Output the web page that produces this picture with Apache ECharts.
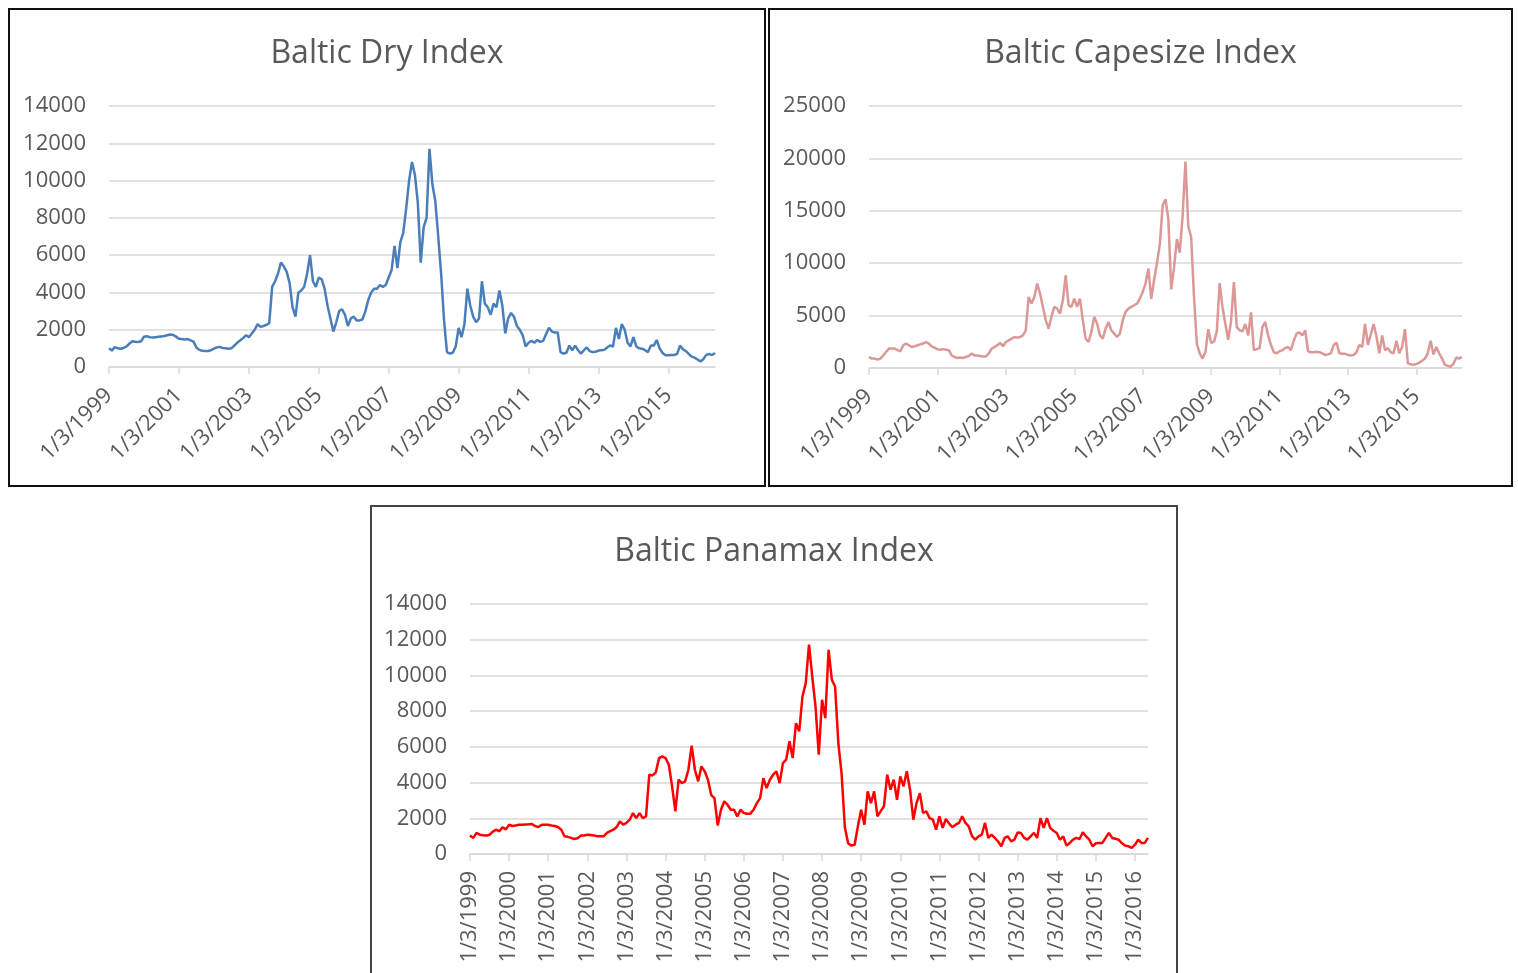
<!DOCTYPE html>
<html>
<head>
<meta charset="utf-8">
<script src="https://cdn.jsdelivr.net/npm/echarts@6/dist/echarts.min.js"></script>
<style>
  html, body { margin: 0; padding: 0; background: #ffffff; overflow: hidden; }
  body { width: 1518px; height: 973px; position: relative; }
  .box { position: absolute; box-sizing: border-box; border: 2px solid #111; background: #fff; }
</style>
</head>
<body>
<div id="bdi" class="box" style="left:8px;top:8px;width:758px;height:479px"></div>
<div id="bci" class="box" style="left:768px;top:8px;width:745px;height:479px"></div>
<div id="bpi" class="box" style="left:370px;top:505px;width:808px;height:490px;border-color:#444"></div>
<script>
// monthly samples, Jan 1999 .. May 2016 (labels use the 3rd of each month)
const startYear = 1999;
const monthCount = 209;

const bdiValues = [
  1000, 880, 1070, 1000, 980, 1020, 1100, 1250, 1380, 1350, 1340, 1380,
  1620, 1650, 1600, 1580, 1600, 1620, 1640, 1660, 1700, 1740, 1720, 1630,
  1520, 1500, 1480, 1500, 1430, 1360, 1050, 920, 870, 860, 860, 900,
  980, 1050, 1080, 1020, 1000, 980, 1000, 1150, 1300, 1420, 1550, 1700,
  1600, 1800, 2000, 2300, 2150, 2200, 2250, 2350, 4300, 4600, 5000, 5600,
  5400, 5100, 4500, 3200, 2700, 4000, 4100, 4300, 5000, 6000, 4600, 4300,
  4800, 4700, 4200, 3300, 2600, 1900, 2400, 3000, 3100, 2800, 2200, 2600,
  2700, 2500, 2500, 2550, 3000, 3600, 4000, 4200, 4200, 4400, 4300, 4400,
  4800, 5200, 6500, 5300, 6700, 7200, 8500, 10000, 11000, 10300, 8800, 5600,
  7500, 8000, 11700, 9800, 8900, 7000, 5000, 2500, 800, 720, 760, 1100,
  2100, 1600, 2300, 4200, 3300, 2700, 2400, 2600, 4600, 3400, 3200, 2800,
  3400, 3200, 4100, 3300, 1800, 2600, 2900, 2700, 2200, 2000, 1700, 1100,
  1300, 1400, 1300, 1450, 1350, 1400, 1750, 2100, 1900, 1850, 1850, 800,
  720, 760, 1150, 900, 1150, 900, 720, 900, 1050, 850, 800, 820,
  880, 900, 920, 1050, 1150, 1100, 2100, 1500, 2300, 2000, 1300, 1100,
  1600, 1100, 1000, 980, 900, 800, 1150, 1150, 1450, 1000, 750, 630,
  630, 640, 650, 700, 1150, 950, 850, 700, 560, 500, 400, 300,
  420, 650, 700, 640, 750
];

const bciValues = [
  1050, 900, 900, 800, 900, 1200, 1530, 1850, 1850, 1850, 1700, 1600,
  2170, 2330, 2170, 2000, 2070, 2170, 2260, 2330, 2480, 2330, 2070, 1940,
  1780, 1750, 1800, 1750, 1700, 1200, 1050, 950, 1000, 950, 1050, 1150,
  1370, 1200, 1200, 1150, 1100, 1100, 1370, 1850, 2000, 2170, 2400, 2070,
  2480, 2640, 2800, 2960, 2900, 2960, 3120, 3600, 6780, 6150, 6780, 8060,
  7100, 5830, 4550, 3760, 4870, 5830, 5670, 5190, 6460, 8850, 5990, 5830,
  6620, 5830, 6620, 4550, 2800, 2480, 3440, 4870, 4240, 3120, 2800, 3760,
  4390, 3600, 3280, 2960, 3280, 4550, 5350, 5670, 5830, 5990, 6150, 6620,
  7260, 8060, 9500, 6600, 8400, 10000, 11800, 15500, 16100, 14200, 7500, 9600,
  12300, 11000, 14500, 19700, 13500, 12500, 6800, 2300, 1400, 900, 1500, 3700,
  2400, 2500, 3500, 8100, 5800, 4200, 2700, 4500, 8200, 3900, 3600, 3500,
  4200, 3100, 5300, 1700, 1800, 1900, 3900, 4400, 3100, 2200, 1500, 1400,
  1600, 1700, 1900, 2000, 1700, 2600, 3300, 3400, 3100, 3600, 1600, 1500,
  1500, 1550, 1500, 1400, 1250, 1300, 1400, 2200, 2400, 1400, 1350, 1350,
  1250, 1200, 1250, 1500, 2200, 2000, 4200, 2200, 3200, 4200, 3000, 1400,
  3100, 1700, 1900, 1500, 1400, 2600, 1400, 2000, 3700, 450, 350, 300,
  400, 500, 700, 900, 1400, 2600, 1300, 2000, 1400, 900, 300, 200,
  120, 400, 1000, 900, 1050
];

const bpiValues = [
  1040, 900, 1180, 1080, 1050, 1030, 1080, 1250, 1360, 1270, 1500, 1380,
  1640, 1570, 1600, 1640, 1640, 1650, 1660, 1680, 1560, 1510, 1640, 1640,
  1640, 1600, 1570, 1510, 1360, 990, 960, 900, 840, 880, 1030, 1040,
  1080, 1060, 1040, 1000, 990, 990, 1180, 1280, 1360, 1510, 1830, 1640,
  1740, 1920, 2290, 2010, 2290, 2010, 2110, 4440, 4400, 4570, 5370, 5470,
  5370, 5000, 3790, 2390, 4160, 3970, 4070, 4720, 6060, 4720, 4070, 4910,
  4630, 4160, 3300, 3130, 1600, 2480, 2950, 2760, 2480, 2480, 2100, 2480,
  2290, 2260, 2260, 2480, 2850, 3130, 4250, 3690, 4160, 4440, 4630, 3970,
  5090, 5280, 6310, 5370, 7330, 6870, 8820, 9570, 11720, 9940, 8260, 5560,
  8640, 7610, 11440, 9760, 9380, 6210, 4500, 1500, 600, 470, 520, 1550,
  2480, 1640, 3510, 2850, 3510, 2110, 2400, 2670, 4440, 3600, 4160, 3040,
  4350, 3790, 4630, 3600, 1920, 2850, 3410, 2300, 2390, 2010, 1920, 1360,
  2110, 1460, 1960, 1700, 1510, 1640, 1740, 2110, 1740, 1550, 1000, 800,
  990, 1080, 1740, 900, 1080, 900, 700, 430, 900, 990, 710, 800,
  1210, 1180, 900, 800, 990, 1180, 900, 2010, 1460, 2010, 1460, 1300,
  1180, 800, 990, 470, 620, 800, 900, 840, 1210, 990, 800, 430,
  600, 620, 620, 900, 1180, 900, 850, 800, 600, 470, 430, 340,
  520, 800, 620, 620, 900
];

const dateLabels = [];
for (let i = 0; i < monthCount; i++) {
  const y = startYear + Math.floor(i / 12);
  const m = (i % 12) + 1;
  dateLabels.push(m + "/3/" + y);
}

const textColor = "#595959";
const gridColor = "#d9d9d9";
const fontFamily = "'Open Sans', sans-serif";

function buildChart(id, cfg) {
  const chart = echarts.init(document.getElementById(id));
  const every = cfg.labelEveryMonths;
  chart.setOption({
    animation: false,
    title: {
      text: cfg.title,
      left: "center",
      top: cfg.titleTop,
      textStyle: { fontFamily: fontFamily, fontSize: 32, fontWeight: "normal", color: textColor }
    },
    grid: cfg.grid,
    xAxis: {
      type: "category",
      boundaryGap: false,
      data: dateLabels,
      axisLine: { lineStyle: { color: gridColor, width: 1.5 } },
      axisTick: {
        show: true,
        length: 7,
        interval: (idx) => idx % every === 0,
        lineStyle: { color: gridColor, width: 1.5 }
      },
      axisLabel: {
        interval: (idx) => idx % every === 0,
        rotate: cfg.rotate,
        margin: cfg.labelMargin,
        fontFamily: fontFamily,
        fontSize: 22,
        color: textColor
      },
      splitLine: { show: false }
    },
    yAxis: {
      type: "value",
      min: 0,
      max: cfg.yMax,
      interval: cfg.yInterval,
      axisLine: { show: false },
      axisTick: { show: false },
      axisLabel: {
        margin: 23,
        fontFamily: fontFamily,
        fontSize: 22,
        color: textColor,
        formatter: (v) => String(v)
      },
      splitLine: { lineStyle: { color: gridColor, width: 1.5 } }
    },
    series: [{
      type: "line",
      data: cfg.values,
      symbol: "none",
      lineStyle: { color: cfg.color, width: cfg.lineWidth },
      itemStyle: { color: cfg.color }
    }]
  });
  return chart;
}

buildChart("bdi", {
  title: "Baltic Dry Index",
  titleTop: 23,
  grid: { left: 99, right: 49, top: 96, bottom: 118 },
  values: bdiValues,
  color: "#4a7ebb",
  lineWidth: 2.5,
  yMax: 14000,
  yInterval: 2000,
  labelEveryMonths: 24,
  rotate: 45,
  labelMargin: 25
});

buildChart("bci", {
  title: "Baltic Capesize Index",
  titleTop: 23,
  grid: { left: 99, right: 49, top: 96, bottom: 117 },
  values: bciValues,
  color: "#dc9896",
  lineWidth: 2.5,
  yMax: 25000,
  yInterval: 5000,
  labelEveryMonths: 24,
  rotate: 45,
  labelMargin: 25
});

buildChart("bpi", {
  title: "Baltic Panamax Index",
  titleTop: 24,
  grid: { left: 98, right: 28, top: 97, bottom: 139 },
  values: bpiValues,
  color: "#ff0000",
  lineWidth: 2.5,
  yMax: 14000,
  yInterval: 2000,
  labelEveryMonths: 12,
  rotate: 90,
  labelMargin: 17
});
</script>
</body>
</html>
